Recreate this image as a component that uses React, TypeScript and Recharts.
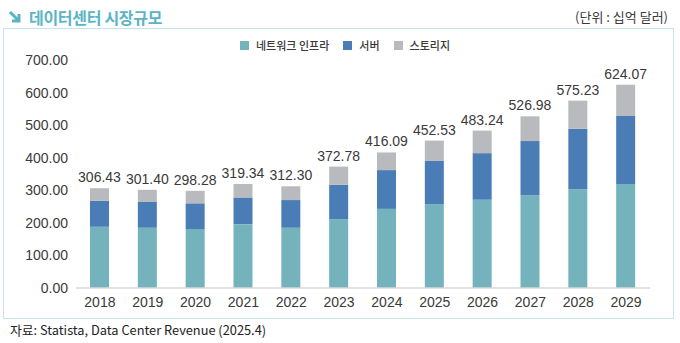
import { Bar, BarChart, LabelList, Legend, XAxis, YAxis } from "recharts";

// values (십억 달러)
const years = ["2018", "2019", "2020", "2021", "2022", "2023", "2024", "2025", "2026", "2027", "2028", "2029"];
const network = [188, 185, 181, 196, 185, 211, 243, 257, 271, 285, 303, 319];
const server = [80, 79, 79, 82, 85, 106, 119, 133, 143, 166, 186, 209];
const storage = [38.4, 37.4, 38.3, 41.3, 42.3, 55.8, 54.1, 62.5, 69.2, 76.0, 86.2, 96.1];
const totals = ["306.43", "301.40", "298.28", "319.34", "312.30", "372.78", "416.09", "452.53", "483.24", "526.98", "575.23", "624.07"];
const yTicks = [0, 100, 200, 300, 400, 500, 600, 700];

const TEAL = "#74B3BC";
const BLUE = "#4A7DB5";
const GRAY = "#B9BABD";
const TEXT = "#3A3A3A";
const NUM_FONT = "'Liberation Sans', Arial, sans-serif";
const KR_FONT = "'Noto Sans CJK KR', 'Noto Sans', sans-serif";

const data = years.map((year, i) => ({
  year,
  network: network[i],
  server: server[i],
  storage: storage[i],
  total: totals[i],
}));

const legendItems = [
  { name: "네트워크 인프라", color: TEAL },
  { name: "서버", color: BLUE },
  { name: "스토리지", color: GRAY },
];

function LegendRow() {
  return (
    <div style={{ display: "flex", alignItems: "center", fontFamily: KR_FONT, fontSize: 11, fontWeight: 500, color: TEXT }}>
      {legendItems.map((it) => (
        <span key={it.name} style={{ display: "flex", alignItems: "center", marginRight: 14 }}>
          <span style={{ width: 9, height: 9, background: it.color, marginRight: 7, display: "inline-block" }} />
          {it.name}
        </span>
      ))}
    </div>
  );
}

export default function App() {
  return (
    <div style={{ position: "relative", width: 680, height: 343, background: "#fff", fontFamily: KR_FONT }}>
      <style>{`body{margin:0}`}</style>

      {/* title */}
      <svg width={14} height={14} style={{ position: "absolute", left: 8, top: 10 }}>
        <path d="M2 2 L11 11 M11 4 L11 11 L4 11" stroke="#5BB4C4" strokeWidth={3} fill="none" />
      </svg>
      <div style={{ position: "absolute", left: 29, top: 5, fontSize: 16, fontWeight: 700, color: "#5BB4C4", letterSpacing: -0.3 }}>
        데이터센터 시장규모
      </div>
      <div style={{ position: "absolute", right: 12, top: 7, fontSize: 13, color: TEXT }}>(단위 : 십억 달러)</div>

      {/* frame */}
      <div
        style={{
          position: "absolute",
          left: 3,
          top: 28,
          width: 669,
          height: 289,
          border: "1.5px solid #C6E4E9",
        }}
      />

      <div style={{ position: "absolute", left: 0, top: 0 }}>
        {/* legend height is added on top of margin.top */}
        <BarChart width={680} height={343} data={data} margin={{ top: 44, right: 30, bottom: 25, left: 0 }}>
          <XAxis
            dataKey="year"
            height={30}
            tickLine={false}
            axisLine={{ stroke: "#D9D9D9", strokeWidth: 1.5 }}
            tick={{ fill: TEXT, fontSize: 14, fontFamily: NUM_FONT }}
            tickMargin={3}
            interval={0}
          />
          <YAxis
            width={76}
            domain={[0, 700]}
            ticks={yTicks}
            axisLine={false}
            tickLine={false}
            tickMargin={2}
            tick={{ fill: TEXT, fontSize: 14, fontFamily: NUM_FONT }}
            tickFormatter={(v: number) => v.toFixed(2)}
          />
          <Legend
            verticalAlign="top"
            align="left"
            content={() => <LegendRow />}
            wrapperStyle={{ position: "absolute", top: 37, left: 240, width: 240, height: 16 }}
          />
          <Bar dataKey="network" name="네트워크 인프라" stackId="a" fill={TEAL} barSize={19} isAnimationActive={false} />
          <Bar dataKey="server" name="서버" stackId="a" fill={BLUE} barSize={19} isAnimationActive={false} />
          <Bar dataKey="storage" name="스토리지" stackId="a" fill={GRAY} barSize={19} isAnimationActive={false}>
            <LabelList
              dataKey="total"
              position="top"
              offset={6}
              fill={TEXT}
              fontSize={14}
              fontFamily={NUM_FONT}
            />
          </Bar>
        </BarChart>
      </div>

      <div style={{ position: "absolute", left: 10, top: 320, fontSize: 12.8, color: "#222" }}>
        자료: Statista, Data Center Revenue (2025.4)
      </div>
    </div>
  );
}
